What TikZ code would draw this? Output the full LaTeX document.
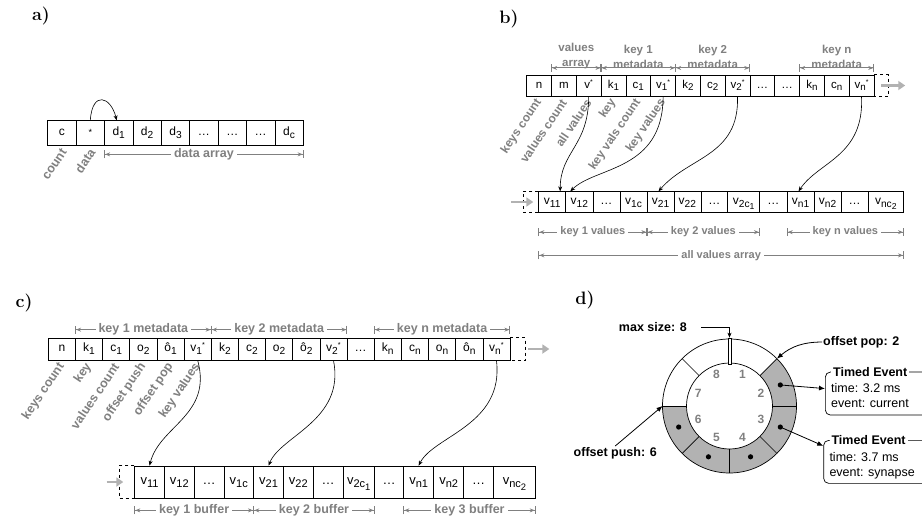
\documentclass[tikz,border=0pt]{standalone}
\usepackage{fontspec}
\usepackage{graphicx}
\newfontfamily\hv{Liberation Sans}
\usetikzlibrary{arrows.meta}
\newcommand{\sbs}[1]{\raisebox{-0.45ex}{\scalebox{0.85}{#1}}}
\newcommand{\sps}{\raisebox{0.6ex}{\scalebox{0.6}{*}}}

\begin{document}
\begin{tikzpicture}[x=1pt, y=-1pt,
  panel/.style={font=\fontsize{18}{18}\selectfont\bfseries, inner sep=0pt},
  cell/.style={draw, line width=0.7pt, inner sep=0pt, text height=8.5pt, text depth=3.5pt, font=\hv\fontsize{#1}{#1}\selectfont},
  acell/.style={cell=12, minimum width=28.4, minimum height=25},
  bcell/.style={cell=11.5, minimum width=24.8, minimum height=21},
  ccell/.style={cell=12, minimum width=27.16, minimum height=22},
  vcell/.style={cell=12, minimum height=20.6, anchor=west},
  wcell/.style={cell=13, minimum height=32, anchor=west},
  lbl/.style={text=gray, inner sep=1pt, font=\hv\bfseries\fontsize{#1}{15}\selectfont},
  rlbl/.style={lbl=#1, rotate=56, anchor=east, inner sep=0pt},
  toptext/.style={lbl=11.5, inner sep=0pt, anchor=south, align=center, yshift=-1pt},
  dimline/.style={draw=gray, line width=1pt, {Bar[width=8pt]Stealth[length=5pt,width=4pt]}-{Stealth[length=5pt,width=4pt]Bar[width=8pt]}},
  dimtext/.style={lbl=#1, fill=white, inner xsep=3pt},
  flow/.style={draw=black!30, line width=2.5pt, -{Triangle[length=7pt,width=9pt]}},
  link/.style={draw, line width=0.6pt, -{Stealth[length=5pt,width=4pt]}},
  ptr/.style={draw, line width=0.8pt, -{Latex[length=6pt,width=5pt]}},
  dlbl/.style={inner sep=1pt, font=\hv\bfseries\fontsize{12.5}{15}\selectfont},
  num/.style={text=gray, inner sep=0pt, font=\hv\bfseries\fontsize{12}{12}\selectfont},
  evbox/.style={draw, line width=0.7pt, rounded corners=5pt, minimum width=108, minimum height=43, inner sep=0pt, anchor=north west},
  evtitle/.style={dlbl, fill=white, inner xsep=2pt, inner ysep=0pt, anchor=west},
  evbody/.style={align=left, inner sep=2pt, anchor=north west, font=\hv\fontsize{12.5}{15}\selectfont}
]
\useasboundingbox (0,0) rectangle (922,523);

% ---------- a) array ----------
\node[panel] (pa) at (41,16) {a)};
\foreach \t [count=\i] in {c, \scalebox{0.75}{*}, d\sbs{1}, d\sbs{2}, d\sbs{3}, \ldots, \ldots, \ldots, d\sbs{c}}
  \node[acell] (a\i) at ({47.7+28.4*(\i-0.5)}, 133.2) {\t};
\draw[link] (a2.north) .. controls +(2,-30) and +(-6,-24) .. ([xshift=-2pt]a3.north);
\draw[dimline] ([yshift=-8.3pt]a3.south west) -- ([yshift=-8.3pt]a9.south east)
  node[dimtext=12.5, midway] (adim) {data array};
\node[rlbl=12.5] (acount) at ([xshift=2pt,yshift=-4pt]a1.south) {count};
\node[rlbl=12.5] (adata) at ([xshift=2pt,yshift=-4pt]a2.south) {data};

% ---------- b) map ----------
\node[panel] (pb) at (509,19) {b)};
\foreach \t [count=\i] in {n, m, v\sps, k\sbs{1}, c\sbs{1}, v\sbs{1}\sps, k\sbs{2}, c\sbs{2}, v\sbs{2}\sps, \ldots, \ldots, k\sbs{n}, c\sbs{n}, v\sbs{n}\sps}
  \node[bcell] (bt\i) at ({526.7+24.8*(\i-0.5)}, 85.5) {\t};
\draw[dashed] (bt14.north east) -- ++(14,0) |- (bt14.south east);
\coordinate (btout) at ([xshift=31pt]bt14.east);
\draw[flow, shorten <=7pt] (bt14.east) -- (btout);

\draw[dimline] ([yshift=6.7pt]bt2.north west) -- ([yshift=6.7pt]bt3.north east)
  node[toptext, midway] (bvals) {values\\array};
\draw[dimline] ([yshift=6.7pt]bt4.north west) -- ([yshift=6.7pt]bt6.north east)
  node[toptext, midway] (bkey1) {key 1\\metadata};
\draw[dimline] ([yshift=6.7pt]bt7.north west) -- ([yshift=6.7pt]bt9.north east)
  node[toptext, midway] (bkey2) {key 2\\metadata};
\draw[dimline] ([yshift=6.7pt]bt12.north west) -- ([yshift=6.7pt]bt14.north east)
  node[toptext, midway] (bkeyn) {key n\\metadata};

\foreach \t [count=\i] in {keys count, values count, all values, key, key vals count, key values}
  \node[rlbl=12] (bl\i) at ([xshift=0pt,yshift=-4pt]bt\i.south) {\t};

\foreach \t/\x/\w [count=\i] in {v\sbs{11}/538.3/27.1, v\sbs{12}/565.4/27.1, \ldots/592.5/27.1, v\sbs{1c}/619.6/27.1,
    v\sbs{21}/646.7/26.9, v\sbs{22}/673.6/26.9, \ldots/700.5/26.8, v\sbs{2c\sbs{1}}/727.3/32,
    \ldots/759.3/27.4, v\sbs{n1}/786.7/27, v\sbs{n2}/813.7/27, \ldots/840.7/27, v\sbs{nc\sbs{2}}/867.7/35.6}
  \node[vcell, minimum width=\w] (bb\i) at (\x, 202) {\t};
\draw[dashed] (bb1.north west) -- ++(-15,0) |- (bb1.south west);
\coordinate (bbin) at ([xshift=-27pt]bb1.west);
\draw[flow, shorten >=5pt] (bbin) -- (bb1.west);

\draw[dimline] ([yshift=-19.5pt]bb1.south west) -- ([yshift=-19.5pt]bb4.south east)
  node[dimtext=11, midway] (bk1v) {key 1 values};
\draw[dimline] ([yshift=-19.5pt]bb5.south west) -- ([yshift=-19.5pt]bb8.south east)
  node[dimtext=11, midway] (bk2v) {key 2 values};
\draw[dimline] ([yshift=-19.5pt]bb10.south west) -- ([yshift=-19.5pt]bb13.south east)
  node[dimtext=11, midway] (bknv) {key n values};
\draw[dimline] ([yshift=-42.7pt]bb1.south west) -- ([yshift=-42.7pt]bb13.south east)
  node[dimtext=11, midway] (ball) {all values array};

\draw[link] (bt3.south) .. controls +(0,50) and +(0,-40) .. ([xshift=8pt]bb1.north);
\draw[link] (bt6.south) .. controls +(0,75) and +(25,-25) .. ([xshift=-9pt]bb2.north);
\draw[link] (bt9.south) .. controls +(2,60) and +(30,-35) .. ([xshift=-2pt]bb5.north);
\draw[link] (bt14.south) .. controls +(3,60) and +(20,-30) .. ([xshift=-2pt]bb10.north);

% ---------- c) buffers ----------
\node[panel] (pc) at (24,303) {c)};
\foreach \t [count=\i] in {n, k\sbs{1}, c\sbs{1}, o\sbs{2}, ô\sbs{1}, v\sbs{1}\sps, k\sbs{2}, c\sbs{2}, o\sbs{2}, ô\sbs{2}, v\sbs{2}\sps, \ldots, k\sbs{n}, c\sbs{n}, o\sbs{n}, ô\sbs{n}, v\sbs{n}\sps}
  \node[ccell] (ct\i) at ({48.3+27.16*(\i-0.5)}, 349) {\t};
\draw[dashed] (ct17.north east) -- ++(15,0) |- (ct17.south east);
\coordinate (ctout) at ([xshift=39pt]ct17.east);
\draw[flow, shorten <=18pt] (ct17.east) -- (ctout);

\draw[dimline] ([yshift=8pt]ct2.north west) -- ([yshift=8pt]ct6.north east)
  node[dimtext=12.5, midway] (ckey1) {key 1 metadata};
\draw[dimline] ([yshift=8pt]ct7.north west) -- ([yshift=8pt]ct11.north east)
  node[dimtext=12.5, midway] (ckey2) {key 2 metadata};
\draw[dimline] ([yshift=8pt]ct13.north west) -- ([yshift=8pt]ct17.north east)
  node[dimtext=12.5, midway] (ckeyn) {key n metadata};

\foreach \t [count=\i] in {keys count, key, values count, offset push, offset pop, key values}
  \node[rlbl=12.5] (cl\i) at ([xshift=0pt,yshift=-4pt]ct\i.south) {\t};

\foreach \t/\x/\w [count=\i] in {v\sbs{11}/134.3/29.75, v\sbs{12}/164.05/29.75, \ldots/193.8/29.75, v\sbs{1c}/223.55/29.75,
    v\sbs{21}/253.3/29.8, v\sbs{22}/283.1/29.8, \ldots/312.9/29.8, v\sbs{2c\sbs{1}}/342.7/31.3,
    \ldots/374/29.3, v\sbs{n1}/403.3/30, v\sbs{n2}/433.3/30, \ldots/463.3/30, v\sbs{nc\sbs{2}}/493.3/41.7}
  \node[wcell, minimum width=\w] (cb\i) at (\x, 482) {\t};
\draw[dashed] (cb1.north west) -- ++(-15,0) |- (cb1.south west);
\coordinate (cbin) at ([xshift=-27.6pt]cb1.west);
\draw[flow, shorten >=11pt] (cbin) -- (cb1.west);

\draw[dimline] ([yshift=-12pt]cb1.south west) -- ([yshift=-12pt]cb4.south east)
  node[dimtext=12.5, midway] (cb1buf) {key 1 buffer};
\draw[dimline] ([yshift=-12pt]cb5.south west) -- ([yshift=-12pt]cb8.south east)
  node[dimtext=12.5, midway] (cb2buf) {key 2 buffer};
\draw[dimline] ([yshift=-12pt]cb10.south west) -- ([yshift=-12pt]cb13.south east)
  node[dimtext=12.5, midway] (cb3buf) {key 3 buffer};

\draw[link] (ct6.south) .. controls +(15,55) and +(10,-40) .. (cb1.north);
\draw[link] (ct11.south) .. controls +(12,60) and +(12,-30) .. (cb5.north);
\draw[link] (ct17.south) .. controls +(8,65) and +(15,-30) .. (cb10.north);

% ---------- d) ring buffer ----------
\node[panel] (pd) at (585,300) {d)};
\begin{scope}[shift={(729.5,406)}, y=1pt]
  \foreach \a in {0,180,225,270,315}
    \fill[black!30] (\a:43) arc[start angle=\a, end angle=\a+45, radius=43]
      -- ({\a+45}:67) arc[start angle=\a+45, end angle=\a, radius=67] -- cycle;
  \draw[line width=0.7pt] (0,0) circle[radius=67];
  \draw[line width=0.7pt] (0,0) circle[radius=43];
  \foreach \a in {0,45,135,180,225,270,315}
    \draw[line width=0.7pt] (\a:43) -- (\a:67);
  \node[draw, line width=0.7pt, fill=white, minimum width=3, minimum height=26, inner sep=0pt] (maxmark) at (90:55) {};
  \foreach \a in {22.5,202.5,247.5,292.5,337.5}
    \fill (\a:55) circle[radius=2.6];
  \foreach \n in {1,...,8}
    \node[num] (n\n) at ({67.5-45*(\n-1)}:34) {\n};
  \coordinate (popt) at (45:67);
  \coordinate (pusht) at (180:67);
  \coordinate (dot2) at (22.5:55);
  \coordinate (dot3) at (-22.5:55);
\end{scope}

\node[dlbl, anchor=east] (maxsz) at (688,327) {max size: 8};
\draw[link] ([xshift=13pt]maxsz.east) -| (maxmark.north);
\node[dlbl, anchor=west] (poplbl) at (822,342) {offset pop: 2};
\draw[ptr] (poplbl.west) to[bend right=20] (popt);
\node[dlbl, anchor=east] (pushlbl) at (658,453) {offset push: 6};
\draw[ptr] (pushlbl.north) -- (pusht);

\node[evbox] (ev1) at (825,371.7) {};
\node[evtitle] (ev1t) at ([xshift=6pt]ev1.north west) {Timed Event};
\node[evbody] (ev1b) at ([xshift=4pt,yshift=-10pt]ev1.north west) {time: 3.2 ms\\event: current};
\node[evbox] (ev2) at (823.3,440) {};
\node[evtitle] (ev2t) at ([xshift=6pt]ev2.north west) {Timed Event};
\node[evbody] (ev2b) at ([xshift=4pt,yshift=-10pt]ev2.north west) {time: 3.7 ms\\event: synapse};
\draw[ptr] (dot2) -- ([yshift=5pt]ev1.west);
\draw[ptr] (dot3) -- ([yshift=16pt]ev2.west);
\end{tikzpicture}
\end{document}
